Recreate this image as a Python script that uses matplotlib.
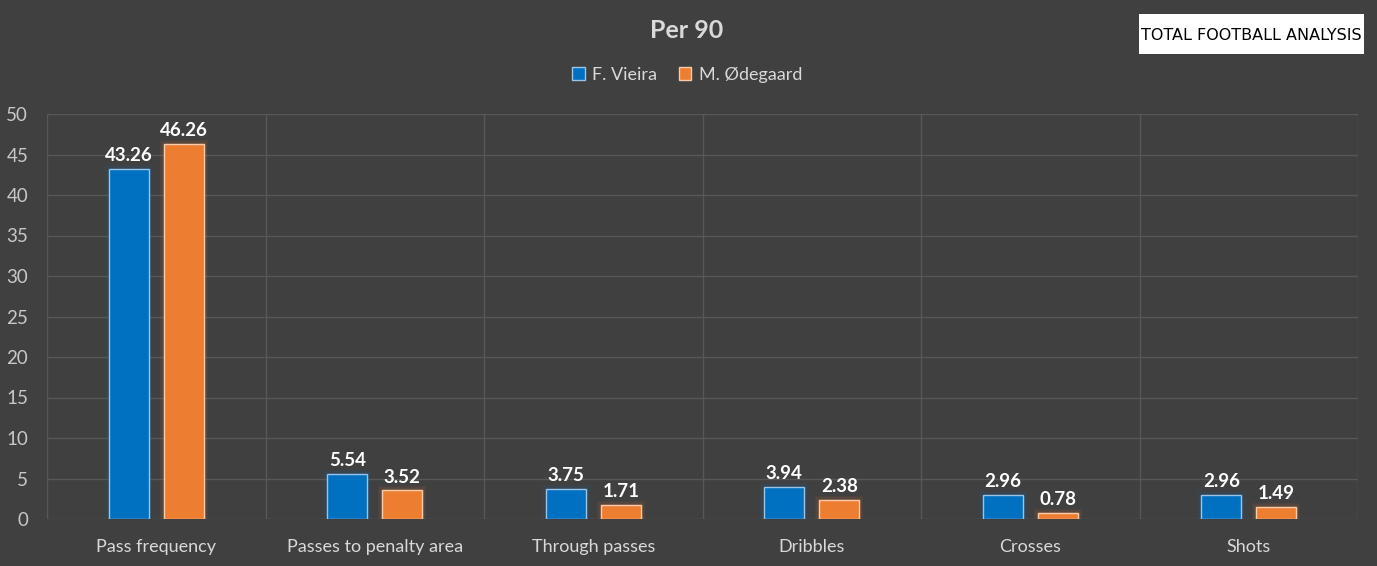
import matplotlib
matplotlib.use("Agg")
import matplotlib.pyplot as plt
import numpy as np

categories = ["Pass frequency", "Passes to penalty area", "Through passes", "Dribbles", "Crosses", "Shots"]
vieira = [43.26, 5.54, 3.75, 3.94, 2.96, 2.96]
odegaard = [46.26, 3.52, 1.71, 2.38, 0.78, 1.49]
series_names = ["F. Vieira", "M. Ødegaard"]
yticks = [0, 5, 10, 15, 20, 25, 30, 35, 40, 45, 50]

plt.rcParams['font.family'] = ['Lato', 'DejaVu Sans']
BG = "#404040"
TXT = "#d9d9d9"
GRID = "#575757"
BLUE = "#0070C0"
ORANGE = "#ED7D31"

fig = plt.figure(figsize=(13.77, 5.66), dpi=100, facecolor=BG)
W, H = 1377, 566
left, right, top, bottom = 47, 1358, 114, 519
ax = fig.add_axes([left / W, 1 - bottom / H, (right - left) / W, (bottom - top) / H])
ax.set_facecolor(BG)

n = len(categories)
x = np.arange(n) + 0.5
bw = 40 / 218.5
off = 27.5 / 218.5

for i in range(n):
    for vals, col, edge, dx in [(vieira, BLUE, "#9dc3e6", -off), (odegaard, ORANGE, "#f8cbad", off)]:
        for k, a in [(6, 0.06), (4, 0.08), (2, 0.12)]:
            ax.bar(x[i] + dx, vals[i], width=bw, color="none", edgecolor=col,
                   linewidth=k, alpha=a, zorder=2)
        ax.bar(x[i] + dx, vals[i], width=bw, color=col, edgecolor=edge,
               linewidth=1.0, zorder=3)
        ax.text(x[i] + dx, vals[i] + 0.6, f"{vals[i]:.2f}", ha="center", va="bottom",
                color="white", fontsize=13.5, fontweight="bold", zorder=4)

ax.set_xlim(0, n)
ax.set_ylim(0, 50)
ax.set_yticks(yticks)
ax.set_yticklabels([str(t) for t in yticks], color="#c8c8c8", fontsize=13.5)
ax.set_xticks(x)
ax.set_xticklabels(categories, color=TXT, fontsize=13)
ax.tick_params(axis='both', length=0)
ax.tick_params(axis='y', pad=13.5)
ax.tick_params(axis='x', pad=14.5)
for t in yticks[1:]:
    ax.axhline(t, color=GRID, linewidth=1, zorder=1)
for b in range(0, n + 1):
    ax.axvline(b, color=GRID, linewidth=1, zorder=1)
for s in ax.spines.values():
    s.set_visible(False)
ax.axhline(0, color=GRID, linewidth=1, zorder=1)

fig.text(687 / W, 1 - 30 / H, "Per 90", ha="center", va="center", color=TXT,
         fontsize=18, fontweight="bold")

from matplotlib.patches import Patch
handles = [Patch(facecolor=BLUE, edgecolor="#9dc3e6"), Patch(facecolor=ORANGE, edgecolor="#f8cbad")]
fig.legend(handles, series_names, loc="center", bbox_to_anchor=(687 / W, 1 - 75 / H), ncol=2,
           frameon=False, fontsize=13, labelcolor=TXT, handlelength=0.7, handleheight=0.7,
           handletextpad=0.4, columnspacing=1.2)

fig.patches.append(matplotlib.patches.Rectangle((1139 / W, 1 - 54 / H), (1364 - 1139) / W, (54 - 14) / H,
                                                transform=fig.transFigure, facecolor="white",
                                                edgecolor="none"))
fig.text(1251 / W, 1 - 35 / H, "TOTAL FOOTBALL ANALYSIS", ha="center", va="center",
         color="black", fontsize=11.5, family=["DejaVu Sans Condensed", "DejaVu Sans"])

fig.savefig("out.png", dpi=100, facecolor=BG)
